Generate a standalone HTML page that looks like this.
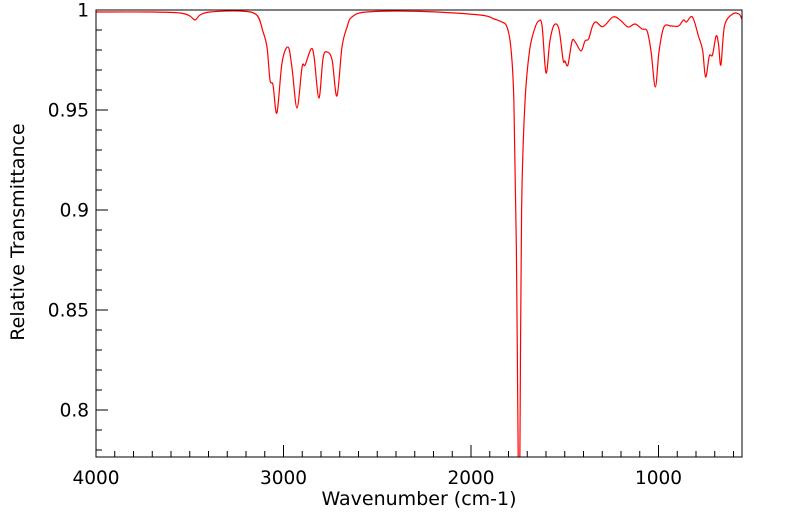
<!DOCTYPE html>
<html><head><meta charset="utf-8"><style>
body{margin:0;background:#fff}
svg{display:block;font-family:"DejaVu Sans","Liberation Sans",sans-serif}
</style></head><body>
<svg id="chart" width="799" height="516"></svg>
<script>
const wavenumbers=[4000,3712,3552,3499,3472,3445,3392,3232,3143,3109,3088,3072,3056,3035,3008,2976,2955,2928,2901,2885,2853,2837,2811,2789,2768,2741,2715,2688,2661,2635,2555,2272,1952,1877,1835,1808,1787,1771,1758,1748,1744,1740,1730,1712,1688,1661,1639,1621,1600,1579,1557,1531,1509,1499,1483,1461,1442,1413,1392,1373,1352,1333,1296,1243,1205,1163,1125,1088,1061,1040,1017,997,971,933,893,867,851,819,787,765,749,729,712,693,680,667,648,605,571,555];
const transmittance=[0.999,0.999,0.9985,0.997,0.995,0.9975,0.999,0.9995,0.9975,0.989,0.9815,0.965,0.9625,0.9485,0.9735,0.9815,0.9715,0.951,0.9715,0.9725,0.9805,0.9765,0.956,0.976,0.979,0.975,0.957,0.9815,0.9915,0.9965,0.999,0.9993,0.9975,0.9955,0.994,0.9915,0.981,0.954,0.88,0.77,0.74,0.77,0.90,0.954,0.9795,0.9905,0.9945,0.992,0.9685,0.9845,0.9925,0.9905,0.975,0.9745,0.9725,0.9845,0.9837,0.9795,0.9845,0.9855,0.992,0.994,0.9917,0.9965,0.995,0.9915,0.993,0.9905,0.9895,0.9795,0.9615,0.9795,0.9915,0.992,0.992,0.995,0.994,0.9965,0.987,0.980,0.9665,0.977,0.9775,0.987,0.983,0.9725,0.992,0.998,0.998,0.9955];
const xTicks=[4000,3000,2000,1000];
const yTicks=[0.8,0.85,0.9,0.95,1];
const yTickLabels=["0.8","0.85","0.9","0.95","1"];

const L=96,R=742,T=10,B=457;
const X=w=>L+(4000-w)*0.1875;
const Y=v=>T+(1-v)*2000;
const NS="http://www.w3.org/2000/svg";
const svg=document.getElementById('chart');
function mk(tag,attrs,parent){const e=document.createElementNS(NS,tag);for(const k in attrs)e.setAttribute(k,attrs[k]);(parent||svg).appendChild(e);return e;}

const defs=mk('defs',{});
const cp=mk('clipPath',{id:'clip'},defs);
mk('rect',{x:L,y:T,width:R-L,height:B-T},cp);

const pts=wavenumbers.map((w,i)=>[X(w),Y(transmittance[i])]);
let d='M'+pts[0][0].toFixed(1)+','+pts[0][1].toFixed(1);
for(let i=0;i<pts.length-1;i++){
  const p0=pts[Math.max(0,i-1)],p1=pts[i],p2=pts[i+1],p3=pts[Math.min(pts.length-1,i+2)];
  const c1=[p1[0]+(p2[0]-p0[0])/6,p1[1]+(p2[1]-p0[1])/6];
  const c2=[p2[0]-(p3[0]-p1[0])/6,p2[1]-(p3[1]-p1[1])/6];
  d+='C'+c1[0].toFixed(1)+','+c1[1].toFixed(1)+' '+c2[0].toFixed(1)+','+c2[1].toFixed(1)+' '+p2[0].toFixed(1)+','+p2[1].toFixed(1);
}
const line=mk('path',{d:d,fill:'none',stroke:'#ff0000','stroke-width':1.2,'clip-path':'url(#clip)'});



const frame=mk('rect',{x:L,y:T,width:R-L,height:B-T,fill:'none',stroke:'#000','stroke-width':1});



for(let w=4000;w>=560;w-=100){
  const major=w%1000===0;
  const t=mk('line',{x1:X(w),x2:X(w),y1:B,y2:B-(major?12:6),stroke:'#000','stroke-width':1});
  
  
}
xTicks.forEach(w=>{
  const t=mk('text',{x:X(w),y:484,'text-anchor':'middle','font-size':18.5});
  t.textContent=w;
  
  
});
for(let i=0;i<=22;i++){
  const v=1-i*0.01;
  if(Y(v)>B)break;
  const major=i%5===0;
  const t=mk('line',{x1:L,x2:L+(major?12:6),y1:Y(v),y2:Y(v),stroke:'#000','stroke-width':1});
  
  
}
yTicks.forEach((v,i)=>{
  const t=mk('text',{x:89,y:Y(v)+6.5,'text-anchor':'end','font-size':18.5});
  t.textContent=yTickLabels[i];
  
  
});
const xt=mk('text',{x:419,y:505,'text-anchor':'middle','font-size':19});
xt.textContent='Wavenumber (cm-1)';


const yt=mk('text',{x:24,y:232,'text-anchor':'middle','font-size':19,transform:'rotate(-90 24 232)'});
yt.textContent='Relative Transmittance';


</script>
</body></html>
